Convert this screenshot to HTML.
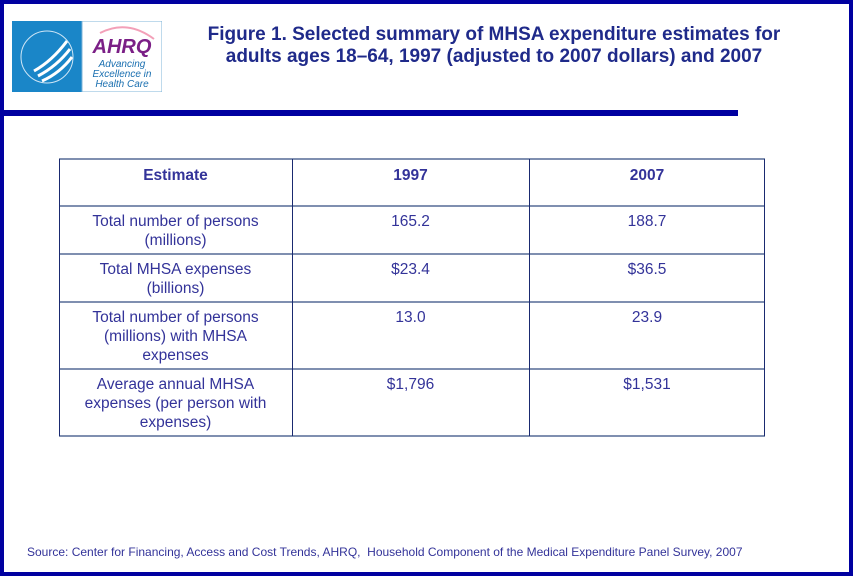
<!DOCTYPE html>
<html><head><meta charset="utf-8"><style>
body{margin:0;width:853px;height:576px;overflow:hidden;background:#fff;font-family:"Liberation Sans",Arial,sans-serif;}
.frame{position:absolute;left:0;top:0;width:845px;height:568px;border:4px solid #0000a0;}
.bar{position:absolute;left:0;top:110px;width:738px;height:6px;background:#0000a0;}
.logo{position:absolute;left:12px;top:21px;width:150px;height:71px;}
.title{position:absolute;left:184px;top:24px;width:620px;text-align:center;color:#1f2a8a;font-weight:bold;font-size:19px;line-height:22px;}
.cell{position:absolute;color:#333399;font-size:15.5px;line-height:19px;text-align:center;}
.h{position:absolute;left:59px;width:706px;height:2px;background:#7f8fb0;}
.v{position:absolute;top:159px;height:277px;width:1px;background:#1a2a70;}
.src{position:absolute;left:27px;top:545px;font-size:12px;color:#333399;}
</style></head><body>
<div class="frame"></div>
<div class="bar"></div>
<svg class="logo" viewBox="0 0 150 71">
<rect x="0" y="0" width="70" height="71" fill="#1a86c8"/>
<path d="M22 50 Q40 40 55 20 M26 55 Q45 45 58 28 M30 60 Q48 52 60 36" stroke="#fff" stroke-width="3" fill="none"/>
<circle cx="35" cy="36" r="26" stroke="#cfe6f6" stroke-width="1" fill="none"/>
<rect x="70" y="0" width="80" height="71" fill="#fff" stroke="#7fb4d8"/>
<path d="M88 12 Q115 -2 142 18" stroke="#f3a0b8" stroke-width="2" fill="none"/>
<text x="110" y="32" font-family="Liberation Sans" font-weight="bold" font-style="italic" font-size="20" fill="#7b1f86" text-anchor="middle">AHRQ</text>
<text x="110" y="46" font-family="Liberation Sans" font-style="italic" font-size="10" fill="#1a6fb0" text-anchor="middle">Advancing</text>
<text x="110" y="56" font-family="Liberation Sans" font-style="italic" font-size="10" fill="#1a6fb0" text-anchor="middle">Excellence in</text>
<text x="110" y="66" font-family="Liberation Sans" font-style="italic" font-size="10" fill="#1a6fb0" text-anchor="middle">Health Care</text>
</svg>
<div class="title">Figure 1. Selected summary of MHSA expenditure estimates for<br>adults ages 18–64, 1997 (adjusted to 2007 dollars) and 2007</div>

<div class="h" style="top:158px"></div>
<div class="h" style="top:205px"></div>
<div class="h" style="top:253px"></div>
<div class="h" style="top:301px"></div>
<div class="h" style="top:368px"></div>
<div class="h" style="top:435px"></div>
<div class="v" style="left:59px"></div>
<div class="v" style="left:292px"></div>
<div class="v" style="left:529px"></div>
<div class="v" style="left:764px"></div>

<div class="cell" style="left:59px;width:233px;top:166px;font-weight:bold">Estimate</div>
<div class="cell" style="left:292px;width:237px;top:166px;font-weight:bold">1997</div>
<div class="cell" style="left:529px;width:236px;top:166px;font-weight:bold">2007</div>

<div class="cell" style="left:59px;width:233px;top:212px">Total number of persons<br>(millions)</div>
<div class="cell" style="left:292px;width:237px;top:212px">165.2</div>
<div class="cell" style="left:529px;width:236px;top:212px">188.7</div>

<div class="cell" style="left:59px;width:233px;top:260px">Total MHSA expenses<br>(billions)</div>
<div class="cell" style="left:292px;width:237px;top:260px">$23.4</div>
<div class="cell" style="left:529px;width:236px;top:260px">$36.5</div>

<div class="cell" style="left:59px;width:233px;top:308px">Total number of persons<br>(millions) with MHSA<br>expenses</div>
<div class="cell" style="left:292px;width:237px;top:308px">13.0</div>
<div class="cell" style="left:529px;width:236px;top:308px">23.9</div>

<div class="cell" style="left:59px;width:233px;top:375px">Average annual MHSA<br>expenses (per person with<br>expenses)</div>
<div class="cell" style="left:292px;width:237px;top:375px">$1,796</div>
<div class="cell" style="left:529px;width:236px;top:375px">$1,531</div>

<div class="src">Source: Center for Financing, Access and Cost Trends, AHRQ,&nbsp; Household Component of the Medical Expenditure Panel Survey, 2007</div>
</body></html>
